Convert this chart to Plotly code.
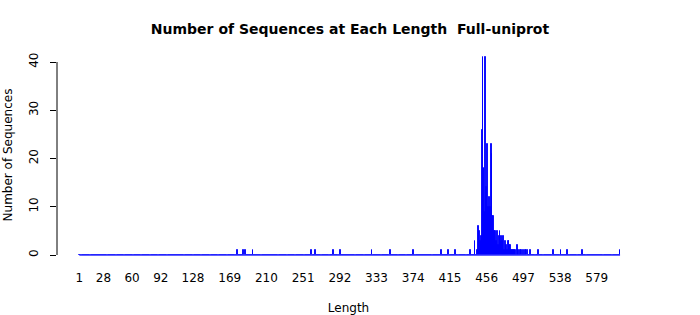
import plotly.graph_objects as go

# Observed sequence lengths and their counts (zero elsewhere)
lengths = [178, 184, 187, 195, 260, 265, 285, 293, 328, 349, 374, 406, 413, 421,
           438, 443, 446, 447, 448, 449, 450, 451, 452, 453, 454, 455, 456, 457,
           458, 459, 460, 461, 462, 463, 464, 465, 466, 467, 468, 469, 470, 471,
           472, 473, 474, 475, 476, 477, 478, 479, 480, 481, 482, 483, 484, 485,
           486, 487, 488, 490, 491, 492, 494, 495, 497, 499, 500, 502, 505, 514,
           531, 539, 546, 563, 605]
counts = [1, 1, 1, 1, 1, 1, 1, 1, 1, 1, 1, 1, 1, 1,
          1, 3, 1, 6, 5, 3, 4, 26, 41, 18, 9, 41, 14, 23,
          10, 12, 10, 23, 21, 8, 8, 5, 5, 3, 5, 2, 4, 5,
          3, 4, 3, 4, 1, 3, 2, 1, 3, 3, 2, 2, 1, 1,
          1, 1, 1, 2, 1, 1, 1, 1, 1, 1, 1, 1, 1, 1,
          1, 1, 1, 1, 1]

tick_labels = [1, 28, 60, 92, 128, 169, 210, 251, 292, 333, 374, 415, 456, 497, 538, 579]
y_ticks = [0, 10, 20, 30, 40]

# full range of lengths with zeros
cmap = dict(zip(lengths, counts))
all_len = list(range(1, max(lengths) + 1))
all_cnt = [cmap.get(v, 0) for v in all_len]

fig = go.Figure()
fig.add_trace(go.Scatter(x=all_len, y=[0] * len(all_len), mode="lines",
                         line=dict(color="#2b2bff", width=1.3), hoverinfo="skip",
                         showlegend=False))
fig.add_trace(go.Bar(x=all_len, y=all_cnt, width=0.9,
                     marker=dict(color="rgba(0,0,255,0.85)",
                                 line=dict(color="rgba(0,0,255,0.9)", width=1)),
                     showlegend=False))

scale = 0.8953  # px per length unit
left_px, right_px = 57, 640
x0 = 1 + (left_px - 79.3) / scale
x1 = 1 + (right_px - 79.3) / scale

top_px, bot_px = 50, 260
pxu = (255 - 62) / 40.0
y0 = -(bot_px - 255) / pxu
y1 = (255 - top_px) / pxu

font_family = "DejaVu Sans"
fig.update_layout(
    width=700, height=315,
    margin=dict(l=left_px, r=700 - right_px, t=top_px, b=315 - bot_px, autoexpand=False),
    plot_bgcolor="white", paper_bgcolor="white",
    font=dict(family=font_family, size=12, color="black"),
    bargap=0,
    title=dict(text="<b>Number of Sequences at Each Length \u00a0Full-uniprot</b>",
               x=0.5, xanchor="center", y=1 - 29 / 315, yanchor="middle",
               font=dict(family=font_family, size=14, color="black")),
    xaxis=dict(range=[x0, x1], tickvals=tick_labels, automargin=False,
               ticktext=[str(t) for t in tick_labels], showgrid=False,
               zeroline=False, showline=False, ticks="",
               tickfont=dict(size=12), ticklabelstandoff=9,
               title=dict(text="Length", font=dict(size=12), standoff=20)),
    yaxis=dict(range=[y0, y1], tickvals=y_ticks, showgrid=False, zeroline=False,
               showline=False, ticks="outside", ticklen=6, tickcolor="black",
               tickwidth=1, tickangle=-90, tickfont=dict(size=12),
               ticklabelstandoff=7, automargin=False,
               title=dict(text="Number of Sequences", font=dict(size=12), standoff=12)),
    shapes=[dict(type="line", xref="paper", yref="y", x0=0, x1=0,
                 y0=min(y_ticks), y1=max(y_ticks),
                 line=dict(color="black", width=1))],
)

fig.write_html("out.html")
